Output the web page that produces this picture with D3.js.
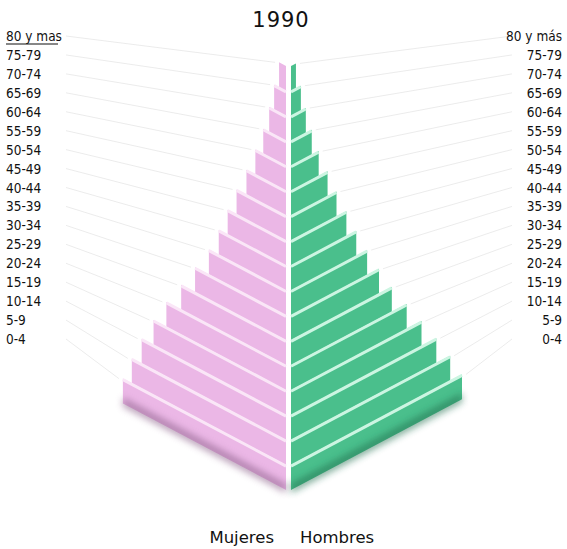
<!DOCTYPE html>
<html>
<head>
<meta charset="utf-8">
<script src="https://cdn.jsdelivr.net/npm/d3@7"></script>
<style>
  body { margin: 0; background: #fff; }
  text { font-family: "DejaVu Sans Condensed", "DejaVu Sans", sans-serif; fill: #111; }
  text.wide { font-family: "DejaVu Sans", sans-serif; }
</style>
</head>
<body>
<svg id="chart-pyramid" width="567" height="549"></svg>
<script>
// age groups, bottom to top
var ageGroups = ["0-4", "5-9", "10-14", "15-19", "20-24", "25-29", "30-34", "35-39", "40-44",
                 "45-49", "50-54", "55-59", "60-64", "65-69", "70-74", "75-79", "80+"];
var leftLabels = ["0-4", "5-9", "10-14", "15-19", "20-24", "25-29", "30-34", "35-39", "40-44",
                  "45-49", "50-54", "55-59", "60-64", "65-69", "70-74", "75-79", "80 y mas"];
var rightLabels = ["0-4", "5-9", "10-14", "15-19", "20-24", "25-29", "30-34", "35-39", "40-44",
                   "45-49", "50-54", "55-59", "60-64", "65-69", "70-74", "75-79", "80 y más"];
// bar lengths (relative units)
var mujeres = [165, 156, 146, 134, 121, 106, 92, 78, 68, 59, 50, 40, 31, 23, 17, 12, 7];
var hombres = [173, 161, 147, 132, 117, 102, 89, 77, 66, 56, 46, 37, 28, 21, 15, 10, 5];
var seriesNames = ["Mujeres", "Hombres"];
var title = "1990";

(function pyramid() {
    var svg = d3.select("#chart-pyramid"),
        cx = 288.5,   // centre line
        gap = 2.5,
        slope = 0.53; // rise of the bars towards the outside (fake 3D)

    var data = ageGroups.map(function(a, i) {
        return {age: a, left: leftLabels[i], right: rightLabels[i], m: mujeres[i], h: hombres[i]};
    });

    // bar position along the centre line
    var y = d3.scaleBand()
        .domain(ageGroups.slice().reverse())
        .range([66, 490]);

    // label rows
    var yl = d3.scalePoint()
        .domain(ageGroups.slice().reverse())
        .range([41, 344]);

    var x = d3.scaleLinear()
        .domain([0, 175])
        .range([0, 173]);

    var defs = svg.append("defs");
    defs.append("filter").attr("id", "blur")
        .attr("x", "-20%").attr("y", "-50%").attr("width", "140%").attr("height", "200%")
        .append("feGaussianBlur").attr("stdDeviation", 3.5);

    function corner(d, side) {
        var w = x(side < 0 ? d.m : d.h);
        return [cx + side * (gap + w), y(d.age) - slope * w];
    }

    // faint leader lines
    svg.append("g").selectAll("line")
        .data(data).enter().append("line")
        .attr("x1", 66)
        .attr("y1", function(d) { return yl(d.age) - 5; })
        .attr("x2", function(d) { return corner(d, -1)[0] - 4; })
        .attr("y2", function(d) { return corner(d, -1)[1]; })
        .attr("stroke", "#d4d4d4").attr("stroke-width", 1).attr("opacity", 0.45);
    svg.append("g").selectAll("line")
        .data(data).enter().append("line")
        .attr("x1", 512)
        .attr("y1", function(d) { return yl(d.age) - 5; })
        .attr("x2", function(d) { return corner(d, 1)[0] + 4; })
        .attr("y2", function(d) { return corner(d, 1)[1]; })
        .attr("stroke", "#d4d4d4").attr("stroke-width", 1).attr("opacity", 0.45);

    function barPath(d, side, val) {
        var w = x(val), x0 = cx + side * gap, x1 = x0 + side * w,
            t = y(d.age), h = y.bandwidth();
        return "M" + x0 + "," + t + "L" + x1 + "," + (t - slope * w) +
               "L" + x1 + "," + (t - slope * w + h) + "L" + x0 + "," + (t + h) + "Z";
    }

    var sides = [
        {side: -1, key: "m", fill: "#ebb7e6", stripe: "#fae6f7", shade: "#8a5f88"},
        {side: 1, key: "h", fill: "#4abf8c", stripe: "#ccf5e2", shade: "#24704f"}
    ];

    sides.forEach(function(s) {
        var g = svg.append("g");

        g.selectAll("path")
            .data(data).enter().append("path")
            .attr("d", function(d) { return barPath(d, s.side, d[s.key]); })
            .attr("fill", s.fill);

        // light separators along the top edge of every bar
        g.selectAll("line")
            .data(data.slice(0, -1)).enter().append("line")
            .attr("x1", cx + s.side * gap)
            .attr("y1", function(d) { return y(d.age) + 1; })
            .attr("x2", function(d) { return cx + s.side * (gap + x(d[s.key])); })
            .attr("y2", function(d) { return y(d.age) + 1 - slope * x(d[s.key]); })
            .attr("stroke", s.stripe).attr("stroke-width", 3);

        // shadow under the base
        var b = data[0], w = x(b[s.key]), x0 = cx + s.side * gap, x1 = x0 + s.side * w,
            yb = y(b.age) + y.bandwidth();
        g.append("path")
            .attr("d", "M" + x0 + "," + (yb - 6) + "L" + x1 + "," + (yb - 6 - slope * w) +
                       "L" + x1 + "," + (yb + 3 - slope * w) + "L" + x0 + "," + (yb + 3) + "Z")
            .attr("fill", s.shade).attr("opacity", 0.6)
            .attr("filter", "url(#blur)");
    });

    // age labels
    svg.append("g").selectAll("text")
        .data(data).enter().append("text")
        .attr("x", 6)
        .attr("y", function(d) { return yl(d.age); })
        .attr("font-size", 13.5)
        .text(function(d) { return d.left; });
    svg.append("line")
        .attr("x1", 6).attr("x2", 58).attr("y1", 44).attr("y2", 44)
        .attr("stroke", "#111").attr("stroke-width", 1.2);

    svg.append("g").selectAll("text")
        .data(data).enter().append("text")
        .attr("x", 562)
        .attr("y", function(d) { return yl(d.age); })
        .attr("text-anchor", "end")
        .attr("font-size", 13.5)
        .text(function(d) { return d.right; });

    svg.append("text").attr("class", "wide")
        .attr("x", 281).attr("y", 27)
        .attr("text-anchor", "middle")
        .attr("font-size", 21)
        .attr("letter-spacing", 1)
        .text(title);

    svg.append("text").attr("class", "wide")
        .attr("x", 274).attr("y", 543)
        .attr("text-anchor", "end")
        .attr("font-size", 16.5)
        .text(seriesNames[0]);
    svg.append("text").attr("class", "wide")
        .attr("x", 300).attr("y", 543)
        .attr("font-size", 16.5)
        .text(seriesNames[1]);
})();
</script>
</body>
</html>
